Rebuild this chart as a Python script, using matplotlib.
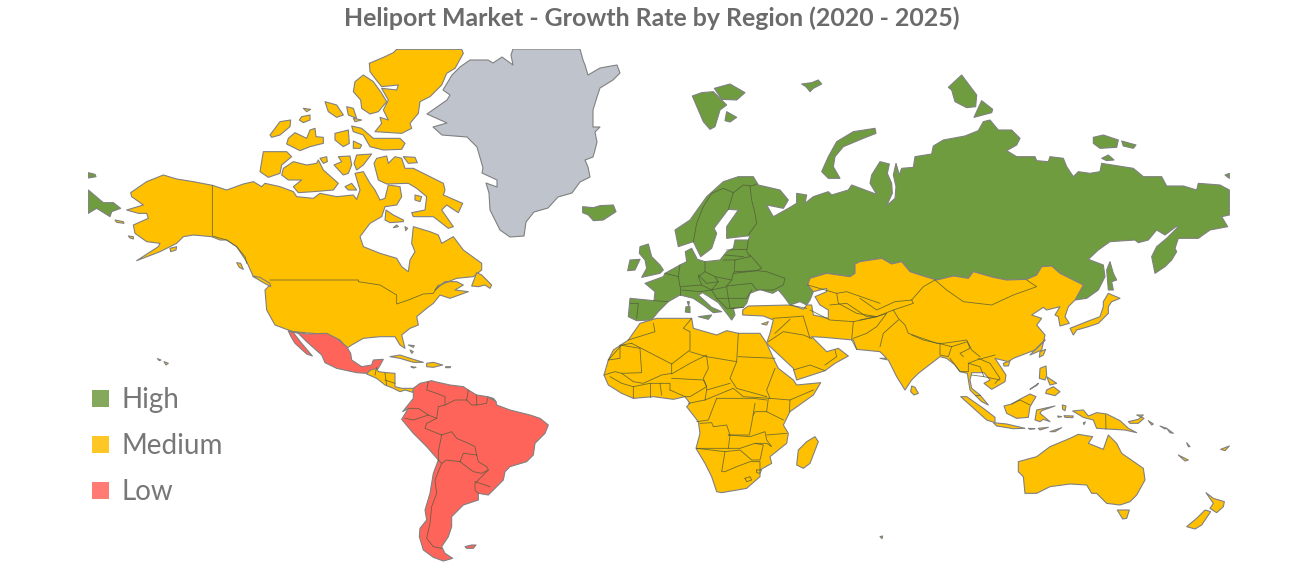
import matplotlib
matplotlib.use('Agg')
import matplotlib.pyplot as plt
from matplotlib.patches import Polygon, Rectangle


# the outlines were traced off enlarged crops, so each list is in crop
# coordinates (3x) and gets moved back to picture pixels here
def crop_pts(x0, y0, pts):
    return [(x0 + x / 3, y0 + y / 3) for x, y in pts]

def na(*pts): return crop_pts(80, 40, pts)
def sa(*pts): return crop_pts(80, 330, pts)
def eu(*pts): return crop_pts(580, 60, pts)
def ru(*pts): return crop_pts(860, 60, pts)
def af(*pts): return crop_pts(590, 300, pts)
def ap(*pts): return crop_pts(880, 330, pts)


title = 'Heliport Market - Growth Rate by Region (2020 - 2025)'
legend_labels = ['High', 'Medium', 'Low']

eurasia_north = (
    eu((145,770),(150,715),(222,722),(225,695),(195,670),(250,650),(255,640),(300,615),(320,605),(316,575),
       (335,565),(352,598),(375,605),(420,600),(440,575),(460,565),(465,540),(505,540),(510,527),(440,535),
       (440,500),(475,450),(445,448),(402,505),(410,520),(395,565),(362,590),(340,545),(295,560),(285,510),
       (330,480),(380,410),(430,365),(475,350),(520,350),(535,375),(600,390),(625,420),(610,445),(560,435),
       (580,470),(625,445),(650,430),(650,400),(680,405),(675,430),(700,410),(745,395),(755,405),(805,390),(815,375))
    + ru((50,403),(30,370),(35,345),(60,305),(88,312),(82,340),(95,370),(97,400),(80,437),(105,415),(108,380),
         (100,345),(108,310),(118,345),(125,325),(160,322),(165,290),(215,282),(220,258),(250,240),(315,228),
         (355,212),(370,185),(390,180),(415,210),(455,210),(480,235),(470,255),(440,272),(470,290),(525,290),
         (530,302),(565,305),(570,290),(610,295),(620,320),(640,350),(655,335),(690,340),(720,335),(725,310),
         (820,325),(850,350),(905,350),(920,378),(970,378),(1010,390),(1015,370),(1080,375),(1108,390),(1108,465),
         (1085,470),(1103,500),(1050,510),(1015,535),(955,535),(945,565),(950,575),(935,600),(915,620),(885,640),
         (875,590),(890,560),(920,535),(955,500),(948,500),(915,525),(890,510),(865,540),(835,548),(825,540),
         (750,545),(715,570),(685,598),(730,615),(735,650),(715,690),(680,715),(645,720),(670,675),(640,660),
         (600,640),(575,618),(545,620),(530,645),(500,658),(440,660),(400,652),(340,635),(325,655),(280,648),
         (230,660),(190,648),(150,635),(125,605),(95,612),(65,595),(0,605))
    + eu((825,612),(825,640),(810,650),(740,640),(690,655),(683,675),(700,695),(690,720),(680,735),(660,725),
         (630,735),(612,710),(595,690),(578,700),(560,695),(540,688),(510,700),(500,730),(490,742),(460,745),
         (465,765),(455,780),(440,760),(415,728),(368,698),(355,705),(395,742),(425,755),(400,758),(370,735),
         (340,715),(300,705),(265,725),(235,755),(215,780),(170,782))
)

high_shapes = [
    eurasia_north,
    na((25,450),(70,488),(100,488),(122,505),(95,515),(90,530),(50,505),(25,520)),
    na((25,398),(45,403),(48,410),(25,414)),
    eu((8,440),(40,443),(60,437),(100,435),(108,455),(70,480),(40,482),(25,465),(8,458)),
    eu((337,108),(365,98),(400,95),(440,135),(420,150),(405,200),(390,208),(370,185),(355,150)),
    eu((403,85),(450,72),(495,98),(470,120),(425,118)),
    eu((440,155),(470,172),(450,186),(435,182)),
    eu((665,72),(695,68),(715,60),(725,72),(700,85),(690,95),(678,80)),
    eu((885,205),(888,220),(850,235),(790,260),(765,290),(760,320),(780,355),(745,355),(725,335),(745,290),(770,245),(820,215)),
    eu((180,560),(205,552),(215,590),(240,615),(250,630),(240,640),(185,652),(200,625),(195,600),(178,580)),
    eu((150,600),(180,598),(165,630),(143,632)),
    eu((355,770),(395,765),(385,778)),
    eu((318,740),(330,740),(330,758),(316,756)),
    eu((322,725),(328,725),(326,738)),
    ru((305,45),(350,105),(347,140),(320,143),(285,125),(275,90),(265,82)),
    ru((365,122),(398,148),(395,158),(342,172)),
    ru((1095,345),(1108,340),(1108,355)),
    ru((700,232),(730,225),(775,240),(770,262),(720,265),(700,250)),
    ru((785,243),(828,255),(820,265),(790,258)),
    ru((725,295),(745,285),(762,300),(740,302)),
    ru((750,605),(760,640),(770,660),(755,665),(760,690),(745,690),(740,630)),
    sa((1222,200),(1240,205),(1248,215),(1235,222),(1222,220)),
]

asia_south = (
    af((458,30),(475,18),(600,15),(625,22),(640,28))
    + eu((680,735),(695,735),(700,765),(745,775),(745,750),(720,735),(705,710),(740,695),(740,685),(700,695),
         (683,675),(690,655),(740,640),(810,650),(825,640),(825,612))
    + ru((0,605),(65,595),(95,612),(125,605),(150,635),(190,648),(230,660),(280,648),(325,655),(340,635),
         (400,652),(440,660),(500,658),(530,645),(545,620),(575,618),(600,640),(640,660),(670,675),(645,720),
         (640,725),(625,740),(615,770),(628,790),(600,798),(595,770),(585,765),(600,740),(560,750),(550,742),
         (515,765),(545,775),(530,795),(555,825),(545,870),(510,885))
    + ap((495,30),(465,60),(400,85),(385,95),(345,85),(378,135),(375,155),(335,178),(312,160),(330,150),(312,128),
         (275,128),(270,150),(275,175),(300,195),(325,225),(305,215),(285,195),(270,180),(262,130),(240,125),
         (225,105),(200,85),(180,80),(115,130),(95,150),(75,180),(50,140),(25,90),(0,85))
    + af((890,175),(870,155),(800,148),(790,120),(700,112),(665,110),(690,135),(710,155),(745,145),(775,168),
         (735,190),(705,212),(620,240),(610,205),(530,130),(540,100),(550,60),(520,48),(458,45))
)

medium_shapes = [
    asia_south,
    # north america
    na((152,458),(200,425),(250,405),(290,417),(340,425),(397,436),(440,450),(490,432),(520,425),(545,440),
       (555,430),(600,440),(640,455),(650,470),(700,475),(720,460),(770,470),(820,465),(830,478),(840,450),
       (825,400),(850,395),(870,430),(885,450),(900,480),(915,475),(925,435),(960,440),(965,470),(950,495),
       (915,500),(905,530),(870,550),(840,590),(850,620),(900,640),(950,655),(965,680),(985,695),(990,660),
       (1005,635),(995,610),(1000,560),(1050,575),(1075,585),(1085,610),(1120,590),(1150,630),(1205,670),
       (1205,690),(1180,710),(1130,715),(1080,735),(1065,750),(1095,725),(1130,725),(1150,735),(1125,750),
       (1165,755),(1110,775),(1080,765),(1060,790),(1040,805),(1010,830),(1015,855),(990,865),(965,885),
       (975,925),(960,915),(945,890),(900,890),(850,895),(815,915),(800,925),(780,900),(740,885),(700,880),
       (640,875),(625,870),(585,855),(560,810),(555,750),(570,735),(520,710),(500,665),(470,620),(440,600),
       (420,600),(395,590),(340,585),(310,590),(290,610),(240,635),(170,662),(235,620),(240,610),(200,605),
       (165,580),(160,555),(205,535),(200,520),(175,520),(140,510),(190,495),(155,470)),
    na((950,28),(1145,28),(1150,40),(1125,85),(1100,100),(1085,135),(1050,170),(1020,185),(1015,220),(990,250),
       (995,265),(965,280),(885,275),(905,250),(900,232),(925,240),(910,210),(925,180),(905,145),(950,150),
       (955,135),(905,140),(885,115),(870,95),(868,70),(915,50),(940,38)),
    na((850,105),(880,125),(905,160),(920,185),(895,215),(870,222),(845,205),(842,180),(820,155),(825,125)),
    na((735,185),(770,195),(790,225),(770,232),(745,215)),
    na((800,200),(820,205),(830,235),(805,225)),
    na((820,235),(845,240),(825,245)),
    na((670,205),(692,208),(680,215)),
    na((665,230),(690,225),(690,240),(670,248),(658,240)),
    na((600,245),(632,240),(630,260),(600,285),(575,292),(570,285)),
    na((645,278),(680,295),(690,270),(705,265),(708,290),(730,292),(730,310),(690,320),(660,332),(620,312),(625,295)),
    na((765,280),(805,270),(808,310),(790,320),(765,300)),
    na((815,258),(845,265),(880,295),(960,295),(975,310),(965,328),(910,330),(870,320),(850,285),(820,275)),
    na((820,303),(845,315),(840,325),(820,325)),
    na((550,335),(620,335),(635,350),(605,375),(600,400),(565,412),(540,395)),
    na((610,385),(640,365),(680,375),(710,370),(715,360),(730,390),(775,430),(760,450),(700,455),(655,458),(640,440),(665,420),(625,420),(605,405)),
    na((720,355),(740,350),(742,365),(730,370)),
    na((775,350),(810,348),(815,375),(805,400),(790,405),(762,375),(785,365)),
    na((830,345),(875,342),(850,375),(830,390),(822,370)),
    na((882,370),(890,355),(920,348),(925,370),(945,350),(965,355),(975,385),(1000,385),(1030,400),(1090,430),
       (1095,450),(1090,465),(1148,490),(1135,518),(1100,495),(1085,510),(1120,560),(1105,565),(1060,530),
       (1000,530),(995,518),(1035,510),(1040,470),(1010,445),(985,430),(920,432),(895,420)),
    na((970,350),(1005,352),(1012,368),(985,370)),
    na((918,510),(940,525),(970,540),(970,545),(930,548),(915,540)),
    na((795,440),(815,430),(830,450),(805,450)),
    na((1005,465),(1025,470),(1020,485),(1005,480)),
    na((950,555),(955,560),(940,563)),
    na((975,560),(983,565),(977,572)),
    na((1190,698),(1205,705),(1225,725),(1235,735),(1230,745),(1215,735),(1195,740),(1175,738)),
    na((518,708),(540,712),(570,730),(572,740),(545,725)),
    na((470,668),(482,670),(490,688),(478,682)),
    na((105,540),(130,545),(132,550),(110,547)),
    na((145,588),(160,590),(160,597),(150,594)),
    na((270,625),(290,620),(288,630),(272,635)),
    sa((252,95),(265,100),(258,105)),
    sa((232,86),(243,90),(238,92)),
    # central america and caribbean
    sa((870,120),(875,112),(890,112),(895,125),(920,128),(945,130),(945,160),(945,170),(965,175),(1000,175),
       (998,187),(975,180),(960,185),(940,175),(915,165),(890,145),(860,132)),
    sa((930,80),(960,75),(1000,88),(1030,97),(1000,97),(960,85)),
    sa((1040,100),(1060,97),(1088,105),(1060,112),(1040,110)),
    sa((993,110),(1008,112),(1000,114)),
    sa((1097,110),(1112,110),(1110,113),(1097,113)),
    sa((985,45),(1003,47),(1000,52)),
    sa((990,60),(1000,65),(995,70)),
    # africa
    af((150,70),(200,55),(285,55),(305,55),(310,85),(380,105),(410,92),(445,100),(510,100),(530,130),(555,185),
       (565,205),(610,240),(620,255),(692,248),(670,285),(600,335),(580,375),(595,400),(590,430),(540,470),
       (545,490),(510,510),(510,530),(470,565),(395,578),(380,575),(365,530),(345,490),(318,445),(330,400),
       (325,365),(290,320),(300,310),(285,290),(250,298),(190,290),(130,295),(95,280),(55,255),(42,225),
       (55,180),(70,150),(115,120)),
    af((675,410),(685,425),(660,490),(640,505),(620,495),(625,450),(650,425)),
    af((515,72),(535,65),(530,75)),
    # japan
    ru((745,700),(780,715),(755,725),(745,740),(745,760),(715,790),(685,800),(650,810),(640,825),(630,805),
       (680,785),(720,770),(730,740),(730,725)),
    # south east asia and oceania
    ap((95,168),(105,172),(115,190),(102,195),(92,185)),
    ap((242,200),(260,200),(310,235),(345,262),(345,278),(320,270),(270,225)),
    ap((340,278),(380,282),(435,295),(400,296),(350,288)),
    ap((372,228),(395,222),(425,205),(450,192),(468,200),(450,230),(445,262),(410,265),(380,250)),
    ap((470,240),(525,228),(485,242),(480,250),(510,275),(490,268),(480,275),(465,270)),
    ap((480,115),(498,108),(500,135),(495,150),(478,145)),
    ap((500,140),(530,160),(510,165)),
    ap((500,180),(520,170),(540,185),(525,197),(497,190)),
    ap((450,178),(475,160),(472,165)),
    ap((370,100),(390,92),(385,108),(372,108)),
    ap((480,65),(497,58),(490,75),(478,82)),
    ap((547,225),(558,228),(555,242),(548,238)),
    ap((533,258),(545,260),(535,262)),
    ap((552,257),(580,258),(578,263),(555,262)),
    ap((445,295),(465,296),(450,298)),
    ap((475,295),(505,292),(480,300)),
    ap((510,305),(545,293),(525,305)),
    ap((610,278),(616,276),(612,284)),
    ap((578,243),(610,240),(625,258),(650,248),(680,252),(720,272),(745,295),(770,308),(735,300),(700,298),(650,295),(640,270),(610,262),(590,250)),
    ap((745,275),(775,268),(790,255),(770,255),(792,265),(775,280),(750,280)),
    ap((805,272),(820,282),(815,285)),
    ap((840,288),(860,295),(855,297)),
    ap((860,295),(880,310),(870,308)),
    ap((920,338),(930,350),(925,350)),
    ap((1022,358),(1048,348),(1035,362)),
    ap((895,375),(925,390),(915,393)),
    ap((978,488),(1000,505),(1033,515),(1030,530),(1010,548),(990,535),(1000,520)),
    ap((975,540),(992,545),(965,585),(945,597),(920,590),(950,565)),
    ap((712,540),(748,540),(740,565),(728,567)),
    ap((415,395),(470,380),(510,350),(570,325),(595,313),(638,320),(625,340),(670,358),(685,315),(710,340),
       (725,370),(790,415),(795,450),(770,495),(750,515),(720,525),(680,520),(650,490),(635,490),(620,465),
       (570,462),(510,470),(470,490),(435,490),(430,440),(415,425)),
    ap((0,620),(8,618),(6,626)),
]

low_shapes = [
    sa((625,3),(680,12),(740,10),(770,25),(800,50),(812,70),(815,90),(845,110),(875,105),(880,90),(910,88),
       (895,115),(870,120),(860,130),(830,128),(770,115),(735,98),(725,75),(680,35),(655,10)),
    sa((625,3),(640,8),(665,40),(697,78),(680,72),(645,40),(632,18)),
    sa((1000,175),(1020,160),(1055,152),(1065,155),(1110,165),(1150,170),(1165,180),(1190,195),(1222,200),(1248,215),
       (1250,225),(1290,240),(1350,255),(1380,265),(1405,285),(1395,310),(1365,340),(1360,375),(1340,395),
       (1290,410),(1275,425),(1270,450),(1225,495),(1195,490),(1195,510),(1150,525),(1130,545),(1115,560),
       (1115,590),(1105,620),(1085,650),(1095,670),(1118,685),(1090,693),(1060,682),(1030,660),(1018,620),
       (1020,595),(1040,570),(1035,540),(1050,490),(1060,430),(1075,390),(1040,350),(1000,310),(965,268),
       (985,235),(968,245),(1000,205)),
    sa((1155,650),(1175,645),(1188,645),(1180,655),(1160,655)),
]

grey_shapes = [
    [(427,114),(447,100),(450,95),(443,90),(452,75),(460,67),(470,60),(488,60),(493,63),(502,57),(513,65),
     (511,55),(513,49),(580,49),(583,60),(585,65),(588,75),(600,68),(617,65),(620,73),(613,80),(600,88),
     (597,97),(593,110),(593,127),(600,127),(595,132),(597,142),(595,150),(593,157),(585,160),(588,167),
     (590,177),(580,182),(572,193),(558,197),(548,208),(534,212),(526,222),(524,236),(510,237),(500,230),
     (490,210),(489,193),(486,183),(497,187),(497,180),(482,173),(483,168),(477,147),(467,137),(442,135),
     (433,127),(447,123)],
]

border_lines = [
    # north america
    na((397,436),(397,588),(440,600),(470,620),(495,650),(500,670)),
    na((570,720),(835,720),(835,725),(900,735),(950,765),(950,792),(985,780),(1030,762),(1060,760),(1075,735)),
    # south america
    sa((1045,155),(1040,180),(1070,190),(1095,200),(1095,225),(1075,230),(1070,265)),
    sa((985,235),(1015,235),(1045,255),(1070,265)),
    sa((1045,255),(1000,270),(975,265)),
    sa((1095,225),(1125,210),(1160,210),(1165,180)),
    sa((1160,210),(1175,225),(1190,225),(1190,195)),
    sa((1190,225),(1220,220),(1222,205)),
    sa((1070,265),(1040,280),(1035,295),(1060,305),(1085,315)),
    sa((1085,315),(1075,365),(1075,390)),
    sa((1085,315),(1115,305),(1130,325),(1165,340),(1185,350),(1190,375)),
    sa((1190,375),(1150,370),(1140,395)),
    sa((1140,395),(1100,390),(1085,400),(1075,390)),
    sa((1190,375),(1195,395),(1220,410),(1225,420),(1205,430),(1180,425),(1140,395)),
    sa((1225,420),(1185,460),(1185,480),(1195,490)),
    sa((1185,455),(1230,470)),
    sa((1085,400),(1065,450),(1070,490),(1055,530),(1050,580),(1040,625),(1060,650),(1085,655)),
    # central america
    sa((890,112),(885,135)),
    sa((915,130),(920,165)),
    sa((945,160),(915,150)),
    # europe
    eu((340,545),(350,490),(370,440),(395,400),(430,385),(460,398),(490,375),(515,378),(530,372)),
    eu((445,448),(460,398)),
    eu((510,378),(515,420),(525,460),(530,490),(505,525)),
    eu((505,540),(500,575),(510,590),(465,600),(430,600)),
    eu((440,570),(500,568)),
    eu((435,585),(490,590)),
    eu((510,585),(545,625),(530,632),(465,635)),
    eu((460,640),(530,632),(560,635),(615,655),(610,675),(580,690),(530,690),(515,670),(440,678),(455,660),(460,640)),
    eu((375,605),(375,635),(405,650),(455,660)),
    eu((465,600),(462,640)),
    eu((300,615),(295,650),(300,680),(365,675),(355,650),(375,635)),
    eu((255,640),(295,650)),
    eu((300,680),(300,705)),
    eu((222,722),(265,725)),
    eu((150,730),(175,730),(170,775)),
    eu((355,645),(380,670),(415,665),(405,650)),
    eu((415,665),(395,690),(440,680)),
    eu((365,675),(395,690),(360,695),(305,690)),
    eu((395,690),(410,715),(445,715),(440,680)),
    eu((515,690),(500,715),(445,715),(450,745),(490,742)),
    eu((410,715),(440,745),(465,745)),
    # caucasus and kazakhstan
    eu((683,675),(770,700),(800,695),(900,730)),
    eu((630,735),(680,745)),
    eu((770,700),(775,730),(830,760),(890,770)),
    # middle east and central asia
    af((548,55),(620,50),(640,48)),
    af((600,58),(555,100)),
    af((535,125),(580,95),(640,105),(665,115)),
    af((640,50),(660,115)),
    af((610,210),(660,195),(705,212)),
    af((705,195),(740,170),(735,150)),
    af((660,30),(720,60),(790,65),(785,120),(800,148)),
    af((720,15),(770,10),(830,50),(860,50),(790,65)),
    af((860,50),(890,40),(860,80),(830,100),(790,115)),
    ru((225,660),(190,680),(155,720),(105,725),(50,750),(0,715)),
    ru((225,660),(260,690),(310,725),(395,735),(460,705),(530,680),(500,660)),
    ru((155,720),(160,730),(100,750),(115,775),(135,795),(145,820),(230,850),(250,850),(320,840),(335,870),(360,890)),
    ru((115,780),(70,820),(60,860)),
    ru((100,750),(50,770),(0,780)),
    # south asia
    ap((95,15),(130,30),(175,40),(215,50),(262,35),(270,55),(240,70),(250,80)),
    ap((180,40),(180,75),(205,80),(215,50)),
    ap((210,85),(240,125),(265,125),(265,100),(290,90),(345,75)),
    ap((265,100),(300,110),(312,140),(275,135)),
    ap((295,85),(330,100),(360,145),(345,160)),
    ap((312,140),(360,150)),
    ap((300,195),(285,195)),
    ap((677,255),(678,298)),
    ap((395,222),(420,210),(450,225)),
    # north africa
    af((115,120),(195,95),(190,70)),
    af((55,180),(95,135),(125,130)),
    af((125,130),(245,192),(300,150),(300,95),(280,85),(305,55)),
    af((300,155),(350,170),(440,185),(445,100)),
    af((445,170),(555,175)),
    # west and central africa
    af((55,180),(90,175),(90,135),(150,145),(155,218),(95,220),(75,215),(42,225)),
    af((245,192),(245,220),(215,225),(160,250),(130,245),(95,220)),
    af((245,222),(300,190),(350,165)),
    af((245,235),(340,240),(350,260),(300,290),(285,290),(240,270)),
    af((350,170),(355,205),(340,235),(350,260),(350,270),(420,250)),
    af((440,185),(420,235),(440,265),(530,290)),
    af((130,295),(130,260),(180,250),(240,250),(240,270)),
    af((180,250),(180,290)),
    af((210,250),(215,285)),
    af((60,230),(95,250),(130,260)),
    af((350,270),(345,300),(430,265),(460,290),(540,295)),
    af((345,300),(295,310)),
    # east and southern africa
    af((555,205),(530,270),(540,295),(600,300),(670,270)),
    af((600,300),(598,335)),
    af((380,295),(490,295),(530,300)),
    af((380,295),(355,360),(320,365)),
    af((495,310),(485,370),(478,405),(415,405)),
    af((535,295),(530,335),(495,335),(490,345)),
    af((530,335),(580,360)),
    af((330,370),(365,368),(370,380),(410,375),(420,405),(415,445),(320,445)),
    af((415,405),(480,410),(525,395),(530,420),(545,440),(530,430),(495,430),(450,445),(415,445)),
    af((530,405),(590,400)),
    af((320,445),(405,455),(395,515),(405,515),(440,500),(480,485),(510,485),(510,510)),
    af((405,455),(450,450),(485,480),(510,480),(520,435),(495,430)),
    af((465,535),(480,530),(485,540),(470,545),(465,535)),
    af((500,510),(515,510),(510,520),(500,518),(500,510)),
]

level_colors = {'high': '#6e9c3f', 'medium': '#ffc000', 'low': '#ff645a', 'none': '#bfc3cc'}
legend_colors = ['#84a95c', '#ffc726', '#ff7b73']
edge_color = '#808080'
text_color = '#6b6b6b'

fig = plt.figure(figsize=(13.03, 5.74), dpi=100)
ax = fig.add_axes([0, 0, 1, 1])
ax.set_xlim(0, 1303)
ax.set_ylim(574, 0)
ax.axis('off')

# map area is cut off at the top and at both sides
map_clip = Rectangle((88, 49), 1142, 520, transform=ax.transData)

for level, shapes in [('none', grey_shapes), ('high', high_shapes),
                      ('medium', medium_shapes), ('low', low_shapes)]:
    for pts in shapes:
        patch = Polygon(pts, closed=True, facecolor=level_colors[level],
                        edgecolor=edge_color, linewidth=0.8, joinstyle='round')
        ax.add_patch(patch)
        patch.set_clip_path(map_clip)

for pts in border_lines:
    xs, ys = zip(*pts)
    ax.plot(xs, ys, color='#4f5a3a', linewidth=0.6, alpha=0.8, solid_joinstyle='round')

ax.text(652, 18, title, ha='center', va='center', fontsize=17.9, color=text_color,
        family='Lato', weight='bold')

for label, color, y in zip(legend_labels, legend_colors, [399, 445, 491]):
    ax.add_patch(Rectangle((92, y - 9), 17, 17, facecolor=color, edgecolor='none'))
    ax.text(122, y + 1, label, ha='left', va='center', fontsize=20, color='#777777',
            family='Lato')

fig.savefig('out.png', dpi=100)
